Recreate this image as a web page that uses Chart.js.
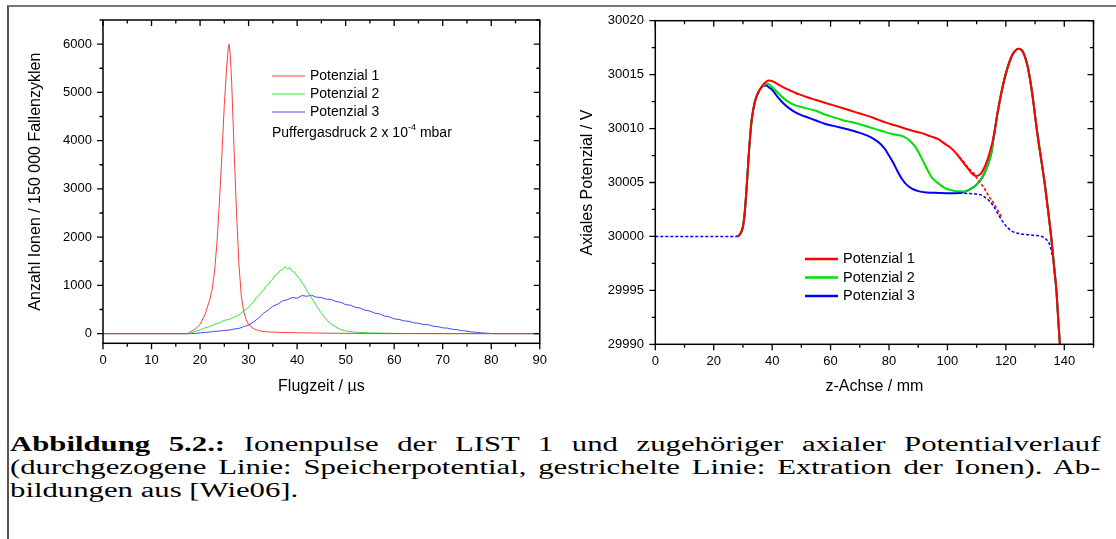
<!DOCTYPE html>
<html>
<head>
<meta charset="utf-8">
<script src="https://cdn.jsdelivr.net/npm/chart.js@4/dist/chart.umd.min.js"></script>
<style>
  body { margin: 0; background: #fff; width: 1116px; height: 539px; overflow: hidden; position: relative; }
  .frame { position: absolute; left: 7px; top: 5px; right: 0; bottom: 0; border-left: 2px solid #555; border-top: 2px solid #777; }
  canvas { position: absolute; top: 0; }
  #flugzeit { left: 0; }
  #potenzial { left: 556px; }
  .caption {
    position: absolute; left: 10px; top: 433px; width: 727px;
    transform: scaleX(1.5); transform-origin: 0 0;
    font-family: 'Liberation Serif', 'Times New Roman', serif; font-size: 20.5px; line-height: 23px; color: #000;
  }
  .caption div { white-space: nowrap; }
  .caption .j { text-align: justify; text-align-last: justify; }
</style>
</head>
<body>
<div class="frame"></div>
<canvas id="flugzeit" width="556" height="400"></canvas>
<canvas id="potenzial" width="560" height="400"></canvas>
<div class="caption">
  <div class="j"><b>Abbildung 5.2.:</b> Ionenpulse der LIST 1 und zugehöriger axialer Potentialverlauf</div>
  <div class="j">(durchgezogene Linie: Speicherpotential, gestrichelte Linie: Extration der Ionen). Ab-</div>
  <div>bildungen aus [Wie06].</div>
</div>
<script>
// ---- Ionenpulse (left): Flugzeit in µs, Anzahl Ionen ----
const p1Zeit = [0, 17.5, 18, 19, 20, 21, 22, 22.5, 23, 23.5, 24, 24.5, 25, 25.5, 25.8, 26, 26.2, 26.5, 27, 27.5, 28, 28.5, 29, 29.5, 30, 31, 32, 33, 34, 36, 38, 40, 43, 46, 50, 55, 60, 90];
const p1Ionen = [0, 0, 40, 95, 190, 390, 700, 920, 1300, 1900, 2750, 3700, 4750, 5550, 5900, 6000, 5800, 5250, 3850, 2550, 1450, 780, 450, 290, 190, 105, 65, 45, 35, 28, 22, 18, 14, 10, 6, 3, 0, 0];

const p2Zeit = [0, 17, 18, 19, 20, 21, 22, 23, 24, 25, 26, 27, 28, 29, 30, 30.5, 31, 31.5, 32, 32.5, 33, 33.5, 34, 34.5, 35, 35.5, 36, 36.5, 37, 37.5, 38, 38.5, 39, 39.5, 40, 40.5, 41, 41.5, 42, 42.5, 43, 43.5, 44, 44.5, 45, 45.5, 46, 47, 48, 49, 50, 52, 55, 60, 65, 70, 80, 90];
const p2Ionen = [0, 0, 10, 45, 75, 120, 145, 195, 225, 275, 295, 340, 385, 470, 545, 610, 650, 735, 770, 850, 890, 975, 1010, 1090, 1130, 1215, 1240, 1310, 1325, 1385, 1345, 1365, 1290, 1270, 1190, 1150, 1050, 990, 890, 820, 735, 655, 575, 500, 420, 360, 295, 200, 135, 85, 55, 30, 15, 6, 3, 1, 0, 0];

const p3Zeit = [0, 18, 19, 20, 21, 22, 23, 24, 25, 26, 27, 28, 29, 30, 31, 32, 33, 34, 35, 36, 37, 38, 39, 40, 41, 42, 43, 44, 45, 46, 47, 48, 49, 50, 51, 52, 53, 54, 55, 56, 57, 58, 59, 60, 61, 62, 63, 64, 65, 66, 67, 68, 69, 70, 71, 72, 73, 74, 75, 76, 77, 78, 79, 80, 81, 90];
const p3Ionen = [0, 0, 6, 14, 28, 33, 48, 52, 68, 74, 95, 108, 145, 178, 245, 315, 420, 485, 570, 610, 680, 705, 750, 735, 790, 775, 795, 755, 750, 715, 710, 665, 650, 600, 590, 545, 530, 485, 470, 425, 410, 365, 350, 305, 295, 265, 255, 225, 215, 190, 185, 155, 145, 120, 115, 90, 82, 62, 52, 35, 28, 16, 10, 3, 0, 0];

const zeitTicks = [0, 10, 20, 30, 40, 50, 60, 70, 80, 90];
const ionenTicks = [0, 1000, 2000, 3000, 4000, 5000, 6000];

// ---- Axiales Potenzial (right): z in mm, Potenzial in V ----
const anstiegZ = [28, 29, 30, 30.5, 31, 31.5, 32, 32.5, 33, 34, 35, 36];
const anstiegV = [30000, 30000.2, 30000.9, 30001.9, 30003.5, 30005.5, 30007.6, 30009.4, 30010.8, 30012.4, 30013.2, 30013.7];

const pot1Z = [37, 38, 39, 40, 42, 44, 46, 48, 50, 52, 55, 58, 61, 64, 67, 70, 73, 76, 79, 82, 85, 88, 91, 94, 97, 99, 101, 103, 105, 107, 108.5, 110, 111.5, 113, 114.5];
const pot1V = [30014.1, 30014.35, 30014.45, 30014.4, 30014.1, 30013.8, 30013.55, 30013.3, 30013.1, 30012.9, 30012.65, 30012.4, 30012.15, 30011.9, 30011.65, 30011.4, 30011.15, 30010.85, 30010.55, 30010.3, 30010.05, 30009.8, 30009.6, 30009.3, 30009.0, 30008.6, 30008.25, 30007.7, 30007.0, 30006.3, 30005.8, 30005.6, 30005.85, 30006.6, 30007.8];

const pot2Z = [37, 38, 39, 40, 42, 44, 46, 48, 50, 52, 55, 58, 61, 64, 67, 70, 73, 76, 79, 82, 85, 87, 89, 90.5, 92, 93.5, 95, 97, 99, 101, 103, 105];
const pot2V = [30014.0, 30014.15, 30014.1, 30013.85, 30013.3, 30012.8, 30012.4, 30012.15, 30012.0, 30011.85, 30011.65, 30011.3, 30011.05, 30010.8, 30010.6, 30010.4, 30010.15, 30009.9, 30009.65, 30009.45, 30009.25, 30008.9, 30008.3, 30007.6, 30006.8, 30006.0, 30005.35, 30004.9, 30004.5, 30004.3, 30004.2, 30004.2];

const pot3Z = [37, 38, 39, 40, 42, 44, 46, 48, 50, 52, 55, 58, 61, 64, 67, 70, 73, 75, 77, 78.5, 80, 81.5, 83, 84.5, 86, 88, 90, 93, 97, 101, 104];
const pot3V = [30013.95, 30014.0, 30013.8, 30013.6, 30012.9, 30012.3, 30011.85, 30011.5, 30011.25, 30011.05, 30010.75, 30010.45, 30010.25, 30010.05, 30009.85, 30009.6, 30009.3, 30009.0, 30008.6, 30008.15, 30007.5, 30006.8, 30006.0, 30005.3, 30004.8, 30004.4, 30004.2, 30004.08, 30004.03, 30004.0, 30004.02];

const muldeZ = [106, 108, 110, 112, 113.5, 115];
const muldeV = [30004.15, 30004.4, 30004.8, 30005.5, 30006.4, 30007.7];

const spitzeZ = [116, 117, 118, 119, 120, 121, 122, 123, 124.3, 125.5, 126.5, 127.5, 128.5, 129.5, 130.5, 131.5, 132.5, 133.5, 134.5, 135.5, 136.5, 137.3, 138, 138.5, 139];
const spitzeV = [30009.5, 30011.2, 30012.7, 30014.0, 30015.1, 30016.0, 30016.7, 30017.15, 30017.4, 30017.25, 30016.7, 30015.7, 30014.2, 30012.3, 30010.1, 30008.2, 30006.4, 30004.5, 30002.3, 30000.0, 29997.2, 29995.0, 29992.0, 29990.0, 29987.5];

// extraction (dashed)
const extFlachZ = [0, 28.5];
const extFlachV = [30000, 30000];
const ext3Z = [104, 106, 108, 110, 111.5, 113, 114.5, 115.8, 117.5, 119, 120.5, 122, 124, 126, 128, 130, 132, 133.5, 134.5, 135.3, 135.8, 136.2];
const ext3V = [30004.02, 30004.0, 30003.97, 30003.92, 30003.85, 30003.6, 30003.25, 30002.8, 30002.0, 30001.35, 30000.85, 30000.5, 30000.3, 30000.2, 30000.15, 30000.1, 30000.02, 29999.8, 29999.5, 29999.0, 29998.3, 29998.0];
const ext1Z = [103, 105.5, 107, 108.9, 110.5, 112.3, 114, 115.8, 117.5, 118.5];
const ext1V = [30007.7, 30006.95, 30006.4, 30005.9, 30005.2, 30004.6, 30003.8, 30003.1, 30002.3, 30001.8];

const zTicks = [0, 20, 40, 60, 80, 100, 120, 140];
const potTicks = [29990, 29995, 30000, 30005, 30010, 30015, 30020];

// helpers
const pts = (xs, ys) => xs.map((x, i) => ({ x: x, y: ys[i] }));
const FONT = "'Liberation Sans', Arial, sans-serif";

// frame around the plot area plus Origin-style tick marks (out on left/bottom, in on top/right)
const frameTicks = {
    id: 'frameTicks',
    afterDraw(chart, args, o) {
        const { ctx, chartArea: a } = chart;
        const xs = chart.scales.x, ys = chart.scales.y;
        ctx.save();
        ctx.strokeStyle = '#000';
        ctx.lineWidth = 1.5;
        ctx.strokeRect(a.left, a.top, a.right - a.left, a.bottom - a.top);
        ctx.lineWidth = 1.3;
        ctx.beginPath();
        const doX = (v, len) => {
            const p = xs.getPixelForValue(v);
            ctx.moveTo(p, a.bottom); ctx.lineTo(p, a.bottom + len);
            ctx.moveTo(p, a.top); ctx.lineTo(p, a.top + len);
        };
        const doY = (v, len) => {
            const p = ys.getPixelForValue(v);
            ctx.moveTo(a.left - len, p); ctx.lineTo(a.left, p);
            ctx.moveTo(a.right - len, p); ctx.lineTo(a.right, p);
        };
        for (let v = Math.ceil(xs.min / o.xMinor) * o.xMinor; v <= xs.max + 1e-6; v += o.xMinor) doX(v, 3.5);
        for (let v = Math.ceil(ys.min / o.yMinor) * o.yMinor; v <= ys.max + 1e-6; v += o.yMinor) doY(v, 3.5);
        xs.ticks.forEach(t => doX(t.value, 6));
        ys.ticks.forEach(t => doY(t.value, 6));
        ctx.stroke();
        ctx.restore();
    }
};

// legend drawn inside the plot
const innerLegend = {
    id: 'innerLegend',
    afterDraw(chart, args, o) {
        const ctx = chart.ctx;
        ctx.save();
        ctx.font = o.size + 'px ' + FONT;
        ctx.textBaseline = 'middle';
        ctx.fillStyle = '#000';
        chart.data.datasets.filter(d => d.inLegend).forEach((d, i) => {
            const y = o.y + i * o.gap;
            ctx.strokeStyle = d.borderColor;
            ctx.lineWidth = o.lineWidth;
            ctx.beginPath();
            ctx.moveTo(o.x, y); ctx.lineTo(o.x + o.len, y);
            ctx.stroke();
            ctx.fillText(d.label, o.x + o.len + 5, y);
        });
        if (o.note) {
            const y = o.y + 3 * o.gap + 3;
            let x = o.x;
            ctx.fillText(o.note[0], x, y);
            x += ctx.measureText(o.note[0]).width;
            ctx.font = (o.size * 0.65) + 'px ' + FONT;
            ctx.fillText(o.note[1], x, y - 6);
            x += ctx.measureText(o.note[1]).width;
            ctx.font = o.size + 'px ' + FONT;
            ctx.fillText(o.note[2], x, y);
        }
        ctx.restore();
    }
};

function axis(min, max, tickList, title, size, pad) {
    return {
        type: 'linear',
        min: min,
        max: max,
        afterBuildTicks: s => { s.ticks = tickList.map(v => ({ value: v })); },
        afterFit: s => { if (s.isHorizontal()) s.height = size; else s.width = size; },
        grid: { display: false, drawTicks: false },
        border: { display: false },
        ticks: {
            autoSkip: false, maxRotation: 0, padding: pad, color: '#000',
            font: { family: FONT, size: 13 },
            callback: v => String(v)
        },
        title: {
            display: true, text: title, color: '#000',
            font: { family: FONT, size: 16 },
            padding: { top: 0, bottom: 0 }
        }
    };
}

function createIonChart() {
    const xAxis = axis(0, 90, zeitTicks, 'Flugzeit / \u00b5s', 56.7, 9);
    xAxis.title.padding = { top: 0, bottom: 3.4 };
    const yAxis = axis(-200, 6500, ionenTicks, 'Anzahl Ionen / 150 000 Fallenzyklen', 103, 11);
    yAxis.title.padding = { top: 26, bottom: 0 };

    new Chart(document.getElementById('flugzeit').getContext('2d'), {
        type: 'line',
        data: {
            datasets: [
                { label: 'Potenzial 1', data: pts(p1Zeit, p1Ionen), borderColor: 'rgba(255,40,40,0.9)', borderWidth: 1, inLegend: true },
                { label: 'Potenzial 2', data: pts(p2Zeit, p2Ionen), borderColor: 'rgba(30,230,30,0.9)', borderWidth: 1, inLegend: true },
                { label: 'Potenzial 3', data: pts(p3Zeit, p3Ionen), borderColor: 'rgba(40,40,255,0.85)', borderWidth: 1, inLegend: true }
            ]
        },
        options: {
            responsive: false,
            devicePixelRatio: 1,
            animation: false,
            layout: { padding: { left: 0, top: 20, right: 13.5, bottom: 0 } },
            elements: { point: { radius: 0 }, line: { tension: 0 } },
            scales: { x: xAxis, y: yAxis },
            plugins: {
                legend: { display: false },
                tooltip: { enabled: false },
                frameTicks: { xMinor: 5, yMinor: 500 },
                innerLegend: {
                    x: 272, y: 76, gap: 18, len: 33, size: 14, lineWidth: 1.2,
                    note: ['Puffergasdruck 2 x 10', '-4', ' mbar']
                }
            }
        },
        plugins: [frameTicks, innerLegend]
    });
}

function createPotentialChart() {
    const xAxis = axis(0, 150, zTicks, 'z-Achse / mm', 55.7, 9);
    xAxis.title.padding = { top: 0, bottom: 3.4 };
    const yAxis = axis(29990, 30020, potTicks, 'Axiales Potenzial / V', 99.3, 11.4);
    yAxis.title.padding = { top: 22.4, bottom: 0 };

    const solid1 = pts(anstiegZ.concat(pot1Z, spitzeZ), anstiegV.concat(pot1V, spitzeV));
    const solid2 = pts(anstiegZ.concat(pot2Z, muldeZ, spitzeZ), anstiegV.concat(pot2V, muldeV, spitzeV));
    const solid3 = pts(anstiegZ.concat(pot3Z, muldeZ, spitzeZ), anstiegV.concat(pot3V, muldeV, spitzeV));
    const dashed3 = pts(extFlachZ, extFlachV).concat([{ x: 29, y: null }], pts(ext3Z, ext3V));

    new Chart(document.getElementById('potenzial').getContext('2d'), {
        type: 'line',
        data: {
            datasets: [
                { label: 'Potenzial 1', data: solid1, borderColor: '#ff0000', borderWidth: 2, inLegend: true },
                { label: 'Potenzial 2', data: solid2, borderColor: '#00e000', borderWidth: 2, inLegend: true },
                { label: 'Potenzial 3', data: solid3, borderColor: '#0000ff', borderWidth: 2, inLegend: true },
                { label: 'Extraktion 1', data: pts(ext1Z, ext1V), borderColor: '#ff0000', borderWidth: 1.5, borderDash: [3, 2] },
                { label: 'Extraktion 3', data: dashed3, borderColor: '#0000ff', borderWidth: 1.5, borderDash: [3, 2], spanGaps: false }
            ]
        },
        options: {
            responsive: false,
            devicePixelRatio: 1,
            animation: false,
            layout: { padding: { left: 0, top: 20.7, right: 22.5, bottom: 0 } },
            elements: { point: { radius: 0 }, line: { tension: 0.3, cubicInterpolationMode: 'monotone' } },
            scales: { x: xAxis, y: yAxis },
            plugins: {
                legend: { display: false },
                tooltip: { enabled: false },
                frameTicks: { xMinor: 10, yMinor: 2.5 },
                innerLegend: { x: 249, y: 259, gap: 18.5, len: 33, size: 14.5, lineWidth: 2.5 }
            }
        },
        plugins: [frameTicks, innerLegend]
    });
}

document.addEventListener('DOMContentLoaded', () => {
    createIonChart();
    createPotentialChart();
});
</script>
</body>
</html>
